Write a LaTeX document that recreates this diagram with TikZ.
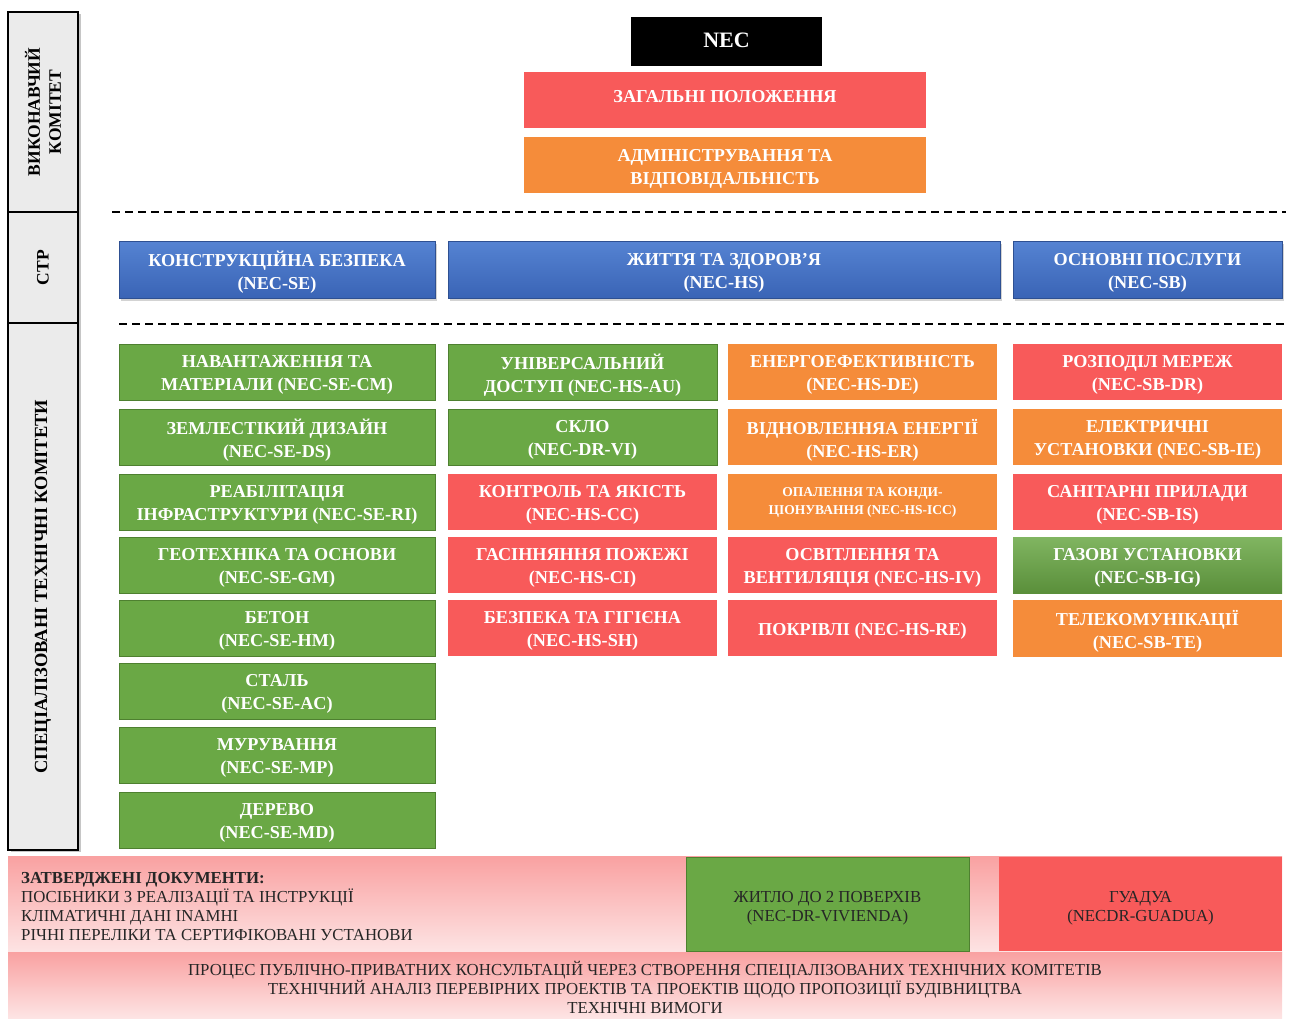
\documentclass[tikz,border=0pt]{standalone}
\usepackage{fontspec}
\setmainfont{Liberation Serif}
\usetikzlibrary{shadows}
\definecolor{cgreen}{HTML}{6AA845}
\definecolor{cgreenb}{HTML}{4E8030}
\definecolor{cred}{HTML}{F85A5A}
\definecolor{corange}{HTML}{F58C3A}
\definecolor{cbluet}{HTML}{5583D2}
\definecolor{cblueb}{HTML}{3A64B6}
\definecolor{cpinkt}{HTML}{F9A1A1}
\definecolor{cpinkb}{HTML}{FDE4E4}
\definecolor{cside}{HTML}{EBEBEB}
\tikzset{
  base/.style={rectangle, inner sep=0pt, outer sep=0pt},
  gbox/.style={base, fill=cgreen, draw=cgreenb, line width=1pt},
  rbox/.style={base, fill=cred},
  obox/.style={base, fill=corange},
  bbox/.style={base, top color=cbluet, bottom color=cblueb, draw=cblueb!80!black, line width=0.6pt,
    drop shadow={shadow xshift=2pt, shadow yshift=-3pt, opacity=0.35}},
  wtext/.style={align=center, text=white, inner sep=0pt,
    font=\fontsize{18.2}{23}\selectfont\bfseries},
  sidebox/.style={draw=black, line width=2pt, fill=cside,
    drop shadow={shadow xshift=3pt, shadow yshift=-2pt, opacity=0.45}},
  sidetext/.style={rotate=90, align=center, font=\fontsize{17.5}{21}\selectfont\bfseries},
  sepline/.style={draw=black, line width=2.6pt, dash pattern=on 8pt off 5pt},
  doctext/.style={font=\fontsize{16.8}{19}\selectfont, text=black!85, align=left, inner sep=0pt},
}
% \bx{name}{x1}{y1}{x2}{y2}{box style}{text style}{text}
\newcommand\bx[8]{\node[#6, minimum width={#4pt-#2pt}, minimum height={#5pt-#3pt}]
  (#1) at ({(#2+#4)/2},{(#3+#5)/2}) {};
  \node[wtext, #7] (#1-t) at ([yshift=-3pt]#1.center) {#8};}
\begin{document}
\begin{tikzpicture}[x=1pt,y=-1pt]
\useasboundingbox (0,0) rectangle (1290,1018);
% sidebar
\node[sidebox, minimum width=70pt, minimum height=200pt, inner sep=0pt] (s1) at (43,112) {};
\node[sidebox, minimum width=70pt, minimum height=111pt, inner sep=0pt] (s2) at (43,267.5) {};
\node[sidebox, minimum width=70pt, minimum height=527pt, inner sep=0pt] (s3) at (43,586.5) {};
\node[sidetext] (t1) at (s1) {ВИКОНАВЧИЙ\\КОМІТЕТ};
\node[sidetext] (t2) at (s2) {СТР};
\node[sidetext, font=\fontsize{18.5}{21}\selectfont\bfseries] (t3) at (s3) {СПЕЦІАЛІЗОВАНІ ТЕХНІЧНІ КОМІТЕТИ};
% top
\bx{nec}{631}{17}{822}{66}{base, fill=black}{font=\fontsize{22}{24}\selectfont\bfseries, yshift=4pt}{NEC}
\bx{gen}{524}{72}{926}{128}{rbox}{yshift=6pt}{ЗАГАЛЬНІ ПОЛОЖЕННЯ}
\bx{adm}{524}{137}{926}{193}{obox}{yshift=-1pt}{АДМІНІСТРУВАННЯ ТА\\ВІДПОВІДАЛЬНІСТЬ}
% separators
\coordinate (d1a) at (112,212); \coordinate (d1b) at (1286,212);
\coordinate (d2a) at (119,324); \coordinate (d2b) at (1286,324);
\draw[sepline] (d1a) -- (d1b);
\draw[sepline] (d2a) -- (d2b);
% CTP
\bx{se}{119}{241}{435}{298}{bbox}{}{КОНСТРУКЦІЙНА БЕЗПЕКА\\(NEC-SE)}
\bx{hs}{448}{241}{1000}{298}{bbox}{}{ЖИТТЯ ТА ЗДОРОВ'Я\\(NEC-HS)}
\bx{sb}{1013}{241}{1282}{298}{bbox}{}{ОСНОВНІ ПОСЛУГИ\\(NEC-SB)}
% column 1
\bx{a1}{119}{344}{435}{400}{gbox}{}{НАВАНТАЖЕННЯ ТА\\МАТЕРІАЛИ (NEC-SE-CM)}
\bx{a2}{119}{409}{435}{465}{gbox}{}{ЗЕМЛЕСТІКИЙ ДИЗАЙН\\(NEC-SE-DS)}
\bx{a3}{119}{474}{435}{530}{gbox}{}{РЕАБІЛІТАЦІЯ\\ІНФРАСТРУКТУРИ (NEC-SE-RI)}
\bx{a4}{119}{537}{435}{593}{gbox}{}{ГЕОТЕХНІКА ТА ОСНОВИ\\(NEC-SE-GM)}
\bx{a5}{119}{600}{435}{656}{gbox}{}{БЕТОН\\(NEC-SE-HM)}
\bx{a6}{119}{663}{435}{719}{gbox}{}{СТАЛЬ\\(NEC-SE-AC)}
\bx{a7}{119}{727}{435}{783}{gbox}{}{МУРУВАННЯ\\(NEC-SE-MP)}
\bx{a8}{119}{792}{435}{848}{gbox}{}{ДЕРЕВО\\(NEC-SE-MD)}
% column 2
\bx{b1}{448}{344}{717}{400}{gbox}{}{УНІВЕРСАЛЬНИЙ\\ДОСТУП (NEC-HS-AU)}
\bx{b2}{448}{409}{717}{465}{gbox}{}{СКЛО\\(NEC-DR-VI)}
\bx{b3}{448}{474}{717}{530}{rbox}{}{КОНТРОЛЬ ТА ЯКІСТЬ\\(NEC-HS-CC)}
\bx{b4}{448}{537}{717}{593}{rbox}{}{ГАСІННЯННЯ ПОЖЕЖІ\\(NEC-HS-CI)}
\bx{b5}{448}{600}{717}{656}{rbox}{}{БЕЗПЕКА ТА ГІГІЄНА\\(NEC-HS-SH)}
% column 3
\bx{c1}{728}{344}{997}{400}{obox}{}{ЕНЕРГОЕФЕКТИВНІСТЬ\\(NEC-HS-DE)}
\bx{c2}{728}{409}{997}{465}{obox}{}{ВІДНОВЛЕННЯА ЕНЕРГІЇ\\(NEC-HS-ER)}
\bx{c3}{728}{474}{997}{530}{obox}{font=\fontsize{13.5}{18}\selectfont\bfseries, yshift=3pt}{ОПАЛЕННЯ ТА КОНДИ-\\ЦІОНУВАННЯ (NEC-HS-ICC)}
\bx{c4}{728}{537}{997}{593}{rbox}{}{ОСВІТЛЕННЯ ТА\\ВЕНТИЛЯЦІЯ (NEC-HS-IV)}
\bx{c5}{728}{600}{997}{656}{rbox}{}{ПОКРІВЛІ (NEC-HS-RE)}
% column 4
\bx{e1}{1013}{344}{1282}{400}{rbox}{}{РОЗПОДІЛ МЕРЕЖ\\(NEC-SB-DR)}
\bx{e2}{1013}{409}{1282}{465}{obox}{}{ЕЛЕКТРИЧНІ\\УСТАНОВКИ (NEC-SB-IE)}
\bx{e3}{1013}{474}{1282}{530}{rbox}{}{САНІТАРНІ ПРИЛАДИ\\(NEC-SB-IS)}
\bx{e4}{1013}{537}{1282}{593}{base, top color=cgreen!85!white, bottom color=cgreen!85!black}{}{ГАЗОВІ УСТАНОВКИ\\(NEC-SB-IG)}
\bx{e5}{1013}{600}{1282}{657}{obox}{}{ТЕЛЕКОМУНІКАЦІЇ\\(NEC-SB-TE)}
% bottom
\node[rectangle, inner sep=0pt, minimum width=1274pt, minimum height=96pt, top color=cpinkt, bottom color=cpinkb] (docs) at (645,904) {};
\node[rectangle, inner sep=0pt, minimum width=1274pt, minimum height=66pt, top color=cpinkt, bottom color=cpinkb] (proc) at (645,985) {};
\node[doctext, anchor=north west] (dtext) at (21,872) {\textbf{ЗАТВЕРДЖЕНІ ДОКУМЕНТИ:}\\ПОСІБНИКИ З РЕАЛІЗАЦІЇ ТА ІНСТРУКЦІЇ\\КЛІМАТИЧНІ ДАНІ INAMHI\\РІЧНІ ПЕРЕЛІКИ ТА СЕРТИФІКОВАНІ УСТАНОВИ};
\bx{viv}{686}{857}{969}{951}{base, fill=cgreen, draw=cgreenb, line width=1pt}{doctext, align=center, yshift=-1pt}{ЖИТЛО ДО 2 ПОВЕРХІВ\\(NEC-DR-VIVIENDA)}
\bx{gua}{999}{857}{1282}{951}{rbox}{doctext, align=center, yshift=-1pt}{ГУАДУА\\(NECDR-GUADUA)}
\node[doctext, align=center, anchor=north] (ptext) at (645,961) {ПРОЦЕС ПУБЛІЧНО-ПРИВАТНИХ КОНСУЛЬТАЦІЙ ЧЕРЕЗ СТВОРЕННЯ СПЕЦІАЛІЗОВАНИХ ТЕХНІЧНИХ КОМІТЕТІВ\\ТЕХНІЧНИЙ АНАЛІЗ ПЕРЕВІРНИХ ПРОЕКТІВ ТА ПРОЕКТІВ ЩОДО ПРОПОЗИЦІЇ БУДІВНИЦТВА\\ТЕХНІЧНІ ВИМОГИ};
\end{tikzpicture}
\end{document}
